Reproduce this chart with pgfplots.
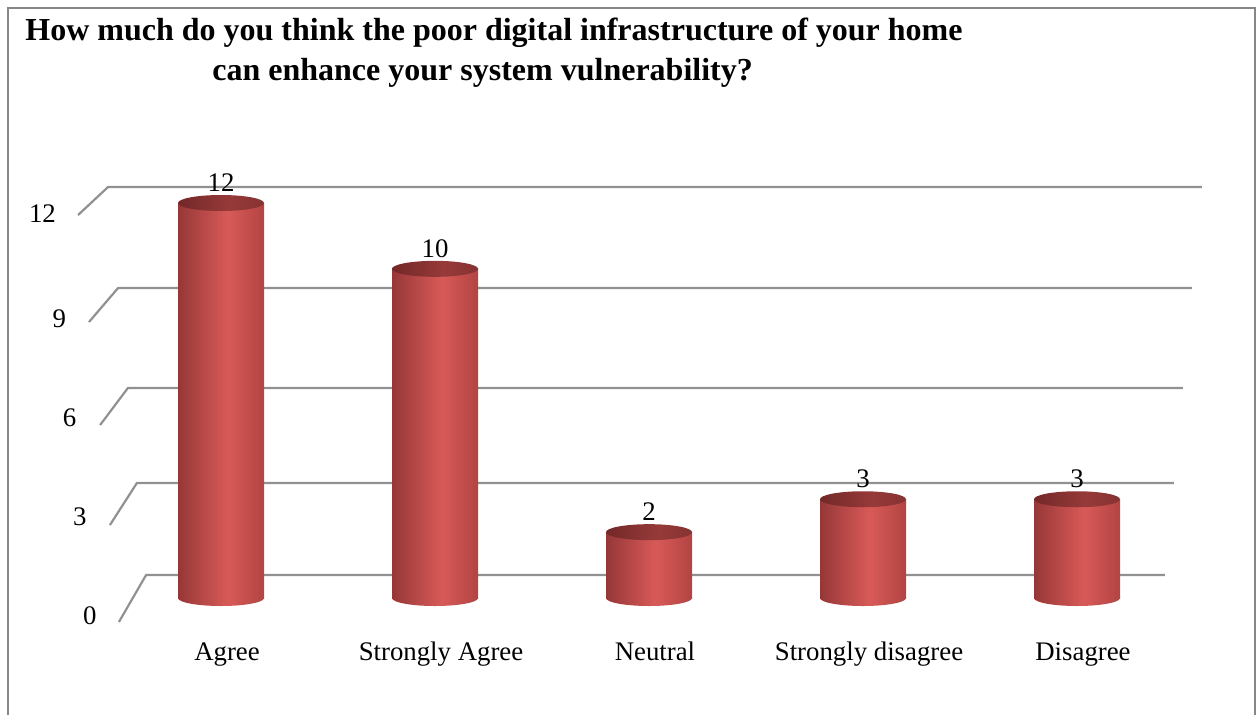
\documentclass[border=0pt]{standalone}
\usepackage{fontspec}
\setmainfont{Liberation Serif}
\usepackage{pgfplots}
\pgfplotsset{compat=1.18}
\usepackage{pgfplotstable}

\definecolor{gridc}{RGB}{145,145,145}
\definecolor{framec}{RGB}{135,135,135}
\definecolor{barL}{RGB}{150,55,55}
\definecolor{barM}{RGB}{216,90,88}
\definecolor{barR}{RGB}{178,68,66}
\definecolor{capL}{RGB}{115,40,40}
\definecolor{capM}{RGB}{150,58,57}
\definecolor{capR}{RGB}{135,50,50}

\pgfdeclarehorizontalshading{cylbody}{100bp}{color(0bp)=(barL); color(25bp)=(barL); color(54bp)=(barM); color(75bp)=(barR); color(100bp)=(barR)}
\pgfdeclarehorizontalshading{cylcap}{100bp}{color(0bp)=(capL); color(25bp)=(capL); color(55bp)=(capM); color(75bp)=(capR); color(100bp)=(capR)}

\pgfdeclareplotmark{cylbot}{%
  \pgfpathellipse{\pgfpointorigin}{\pgfqpoint{21.5pt}{0pt}}{\pgfqpoint{0pt}{4pt}}%
  \pgfshadepath{cylbody}{0}\pgfusepath{discard}}
\pgfdeclareplotmark{cyltop}{%
  \pgfpathellipse{\pgfpointorigin}{\pgfqpoint{21.5pt}{0pt}}{\pgfqpoint{0pt}{4pt}}%
  \pgfshadepath{cylcap}{0}\pgfusepath{discard}}

\pgfplotstableread{
idx value
0 12
1 10
2 2
3 3
4 3
}\resp

\begin{document}
\begin{tikzpicture}
\path[use as bounding box] (0,0) rectangle (628pt,357pt);
\draw[framec, line width=0.8pt] (4pt,-3pt) -- (4pt,353pt) -- (627.4pt,353pt) -- (627.4pt,-3pt);
\node[anchor=base west, font=\bfseries\fontsize{16}{20}\selectfont, inner sep=0pt] at (12.5pt,336.8pt)
  {How much do you think the poor digital infrastructure of your home};
\node[anchor=base west, font=\bfseries\fontsize{16}{20}\selectfont, inner sep=0pt] at (106pt,316.8pt)
  {can enhance your system vulnerability?};
\begin{axis}[
  at={(24.9pt,58pt)}, anchor=south west,
  scale only axis, width=599.2pt, height=197.5pt,
  xmin=-0.8, xmax=4.8, ymin=0, ymax=12,
  clip=false,
  axis line style={draw=none},
  major tick length=0pt, tick style={draw=none},
  /pgf/number format/assume math mode=true,
  xtick={0,1,2,3,4},
  xticklabels={Agree,Strongly Agree,Neutral,Strongly disagree,Disagree},
  ytick={0,3,6,9,12},
  yticklabels={{0},{3\kern5.1pt},{6\kern10.2pt},{9\kern15.3pt},{\raisebox{3.5pt}{12}\kern20.4pt}},
  tick label style={font=\fontsize{13.4}{16}\selectfont, inner sep=0pt},
  yticklabel style={anchor=base east, xshift=23.6pt, yshift=-13pt},
  xticklabel style={anchor=base, xshift=3pt, yshift=-31pt},
]
% back-wall gridlines with side diagonals
\draw[gridc, line width=1.1pt] (axis cs:-0.477,-0.729) -- (axis cs:-0.350,0.699) -- (axis cs:4.411,0.699);
\draw[gridc, line width=1.1pt] (axis cs:-0.519,2.217) -- (axis cs:-0.393,3.493) -- (axis cs:4.453,3.493);
\draw[gridc, line width=1.1pt] (axis cs:-0.565,5.255) -- (axis cs:-0.435,6.379) -- (axis cs:4.495,6.379);
\draw[gridc, line width=1.1pt] (axis cs:-0.617,8.384) -- (axis cs:-0.481,9.417) -- (axis cs:4.537,9.417);
\draw[gridc, line width=1.1pt] (axis cs:-0.668,11.634) -- (axis cs:-0.528,12.485) -- (axis cs:4.584,12.485);

% cylinder bottoms
\addplot[only marks, mark=cylbot] coordinates {(0,0) (1,0) (2,0) (3,0) (4,0)};
% cylinder bodies
\addplot[ybar, bar width=43pt, draw=none, shade, shading=cylbody] coordinates {(0,12)};
\addplot[ybar, bar width=43pt, draw=none, shade, shading=cylbody] coordinates {(1,10)};
\addplot[ybar, bar width=43pt, draw=none, shade, shading=cylbody] coordinates {(2,2)};
\addplot[ybar, bar width=43pt, draw=none, shade, shading=cylbody] coordinates {(3,3)};
\addplot[ybar, bar width=43pt, draw=none, shade, shading=cylbody] coordinates {(4,3)};
% cylinder tops
\addplot[only marks, mark=cyltop] table[x=idx, y=value] {\resp};
% value labels
\addplot[draw=none, mark=none, nodes near coords,
  nodes near coords style={font=\fontsize{13.4}{16}\selectfont, inner sep=0pt, anchor=south, yshift=5.5pt, text=black}]
  table[x=idx, y=value] {\resp};
\end{axis}
\end{tikzpicture}
\end{document}
